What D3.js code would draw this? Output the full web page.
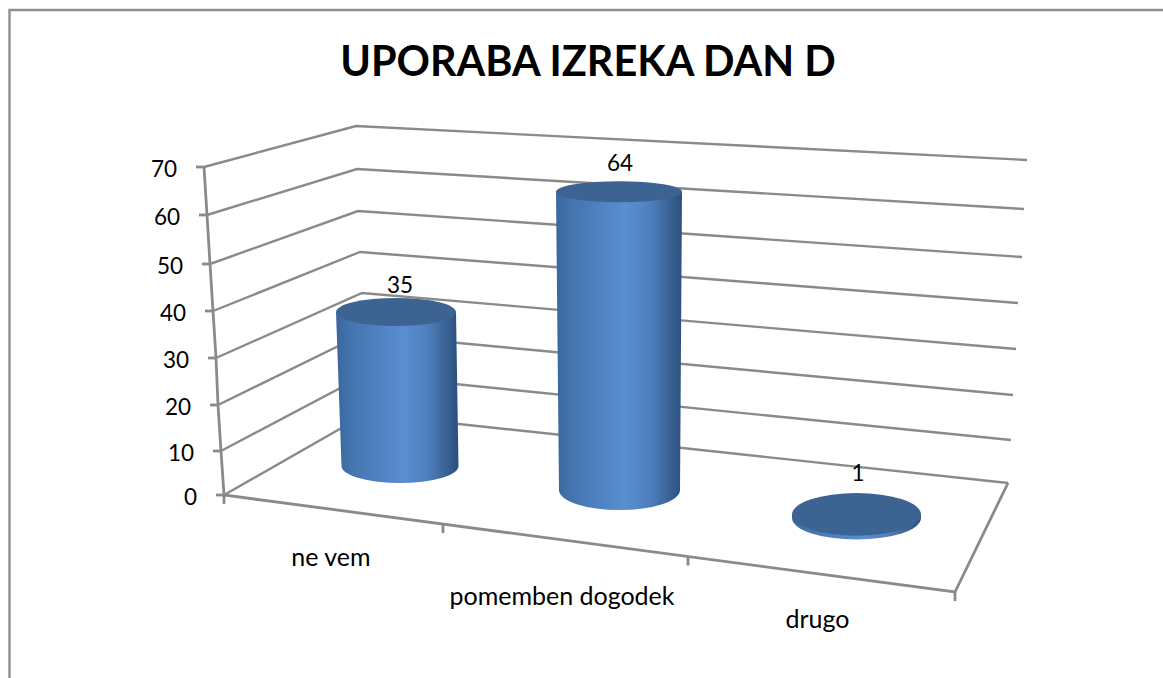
<!DOCTYPE html>
<html>
<head>
<meta charset="utf-8">
<script src="https://cdn.jsdelivr.net/npm/d3@7"></script>
<style>
  html, body { margin: 0; padding: 0; background: #fff; overflow: hidden; }
  text { font-family: Lato, "Open Sans", sans-serif; fill: #000; }
</style>
</head>
<body>
<div id="chart"></div>
<script>
'use strict';

/*** Data */
const title = "UPORABA IZREKA DAN D";
const categories = ["ne vem", "pomemben dogodek", "drugo"];
const values = [35, 64, 1];
const yTicks = [0, 10, 20, 30, 40, 50, 60, 70];

/*** Chart size */
const w = 1163;
const h = 678;
const axisGrey = "#8a8a8a";

const svg = d3.select("#chart").append("svg")
    .attr("width", w)
    .attr("height", h);

const defs = svg.append("defs");
defs.append("filter").attr("id", "soft")
    .attr("x", "-5%").attr("y", "-5%").attr("width", "110%").attr("height", "110%")
    .append("feGaussianBlur").attr("stdDeviation", 0.45);

/** Frame of the picture: only top and left edges are visible */
svg.append("path")
    .attr("d", `M9.5,${h} V10 H${w}`)
    .attr("fill", "none")
    .attr("stroke", "#8e8e8e")
    .attr("stroke-width", 2.4);

svg.append("text")
    .attr("x", 588)
    .attr("y", 76)
    .attr("text-anchor", "middle")
    .attr("font-size", 41.4)
    .attr("font-weight", 700)
    .text(title);

/*** Fake 3D scales: the value axis at each corner of the walls, spacing grows toward the viewer */
const frontX = d3.scaleLinear().domain(yTicks).range([224, 221, 218, 216, 213, 210, 207, 204]);
const frontY = d3.scaleLinear().domain(yTicks).range([495, 451, 405, 358, 311, 264, 215, 167]);
const backX = d3.scaleLinear().domain(yTicks).range([366, 365, 363, 362, 360, 358, 357, 356]);
const backY = d3.scaleLinear().domain(yTicks).range([414, 375, 334, 293, 252, 211, 169, 126]);
const rightX = d3.scaleLinear().domain(yTicks).range([1008, 1011, 1013, 1016, 1018, 1022, 1024, 1027]);
const rightY = d3.scaleLinear().domain(yTicks).range([483, 440, 395, 349, 303, 257, 209, 160]);

/* Floor front edge */
const floorFront = {x0: 224, y0: 495, x1: 955, y1: 592};
const frontEdge = d3.scaleLinear().domain([floorFront.x0, floorFront.x1]).range([floorFront.y0, floorFront.y1]);

/* Cylinders, one polylinear scale per property, by category index */
const idx = categories.map((d, i) => i);
const cxBase = d3.scaleLinear().domain(idx).range([400, 619.5, 856.5]);
const cxTop = d3.scaleLinear().domain(idx).range([396, 619, 856.5]);
const baseY = d3.scaleLinear().domain(idx).range([466, 490, 518]);
const perUnit = d3.scaleLinear().domain(idx).range([4.4, 4.66, 3.6]);
const rxBase = d3.scaleLinear().domain(idx).range([58.5, 60.5, 64.5]);
const rxTop = d3.scaleLinear().domain(idx).range([60, 63, 64.5]);
const ryAt = d3.scaleLinear().domain([192, 312, 466, 490, 518]).range([10.5, 14, 17, 20, 21.5]);
const topY = (d, i) => baseY(i) - d * perUnit(i);

/* Label spots */
const valueX = d3.scaleLinear().domain(idx).range([400, 620, 858]);
const valueGap = d3.scaleLinear().domain(idx).range([5, 10, 12]);
const labelX = d3.scaleLinear().domain(idx).range([331, 562, 817.5]);
const labelY = d3.scaleLinear().domain(idx).range([566, 605, 628]);
/* Category ticks on the floor edge */
const catTickX = [224, 443, 688, 955];

/*** Gridlines */
const grid = svg.append("g")
    .attr("fill", "none")
    .attr("stroke", axisGrey)
    .attr("stroke-width", 2.4)
    .attr("filter", "url(#soft)");

grid.selectAll("path")
    .data(yTicks)
    .join("path")
    .attr("d", d => `M${frontX(d)},${frontY(d)} L${backX(d)},${backY(d)} L${rightX(d)},${rightY(d)}`);

/*** Floor and axes */
const axes = svg.append("g")
    .attr("fill", "none")
    .attr("stroke", axisGrey)
    .attr("stroke-width", 2.8)
    .attr("filter", "url(#soft)");

axes.append("path")
    .attr("d", `M${frontX(70)},${frontY(70)} ` + yTicks.slice().reverse().slice(1).map(d => `L${frontX(d)},${frontY(d)}`).join(" ") +
        ` L${floorFront.x1},${floorFront.y1} L${rightX(0)},${rightY(0)}`);

axes.selectAll(".ytick")
    .data(yTicks)
    .join("line")
    .attr("class", "ytick")
    .attr("x1", d => frontX(d) - 8)
    .attr("x2", d => frontX(d))
    .attr("y1", d => frontY(d))
    .attr("y2", d => frontY(d));

axes.selectAll(".xtick")
    .data(catTickX)
    .join("line")
    .attr("class", "xtick")
    .attr("x1", d => d)
    .attr("x2", d => d)
    .attr("y1", d => frontEdge(d))
    .attr("y2", d => frontEdge(d) + 9);

/*** Y labels */
svg.selectAll(".ylabel")
    .data(yTicks)
    .join("text")
    .attr("class", "ylabel")
    .attr("x", d => frontX(d) - 27)
    .attr("y", d => frontY(d) + 9.5)
    .attr("text-anchor", "end")
    .attr("font-size", 22.5)
    .text(d => d);

/*** Cylinders */
const grad = defs.append("linearGradient").attr("id", "side");
[[0, "#3a669c"], [0.12, "#4474ae"], [0.35, "#4f82c1"], [0.55, "#5a8ed2"], [0.75, "#4e7fbc"], [0.92, "#365e90"], [1, "#2a4f7c"]]
    .forEach(s => grad.append("stop").attr("offset", s[0]).attr("stop-color", s[1]));

const cyl = svg.selectAll(".cyl")
    .data(values)
    .join("g")
    .attr("class", "cyl")
    .attr("filter", "url(#soft)");

cyl.append("path")
    .attr("fill", "url(#side)")
    .attr("d", (d, i) => {
        const by = baseY(i);
        const bry = ryAt(by);
        return `M${cxTop(i) - rxTop(i)},${topY(d, i)} L${cxBase(i) - rxBase(i)},${by}` +
            ` A${rxBase(i)},${bry} 0 0 0 ${cxBase(i) + rxBase(i)},${by} L${cxTop(i) + rxTop(i)},${topY(d, i)} Z`;
    });

cyl.append("ellipse")
    .attr("cx", (d, i) => cxTop(i))
    .attr("cy", (d, i) => topY(d, i))
    .attr("rx", (d, i) => rxTop(i))
    .attr("ry", (d, i) => ryAt(topY(d, i)))
    .attr("fill", "#3e6492");

/*** Value labels */
svg.selectAll(".value")
    .data(values)
    .join("text")
    .attr("class", "value")
    .attr("x", (d, i) => valueX(i))
    .attr("y", (d, i) => topY(d, i) - ryAt(topY(d, i)) - valueGap(i))
    .attr("text-anchor", "middle")
    .attr("font-size", 22.5)
    .text(d => d);

/*** Category labels */
svg.selectAll(".cat")
    .data(categories)
    .join("text")
    .attr("class", "cat")
    .attr("x", (d, i) => labelX(i))
    .attr("y", (d, i) => labelY(i))
    .attr("text-anchor", "middle")
    .attr("font-size", 25)
    .text(d => d);
</script>
</body>
</html>
